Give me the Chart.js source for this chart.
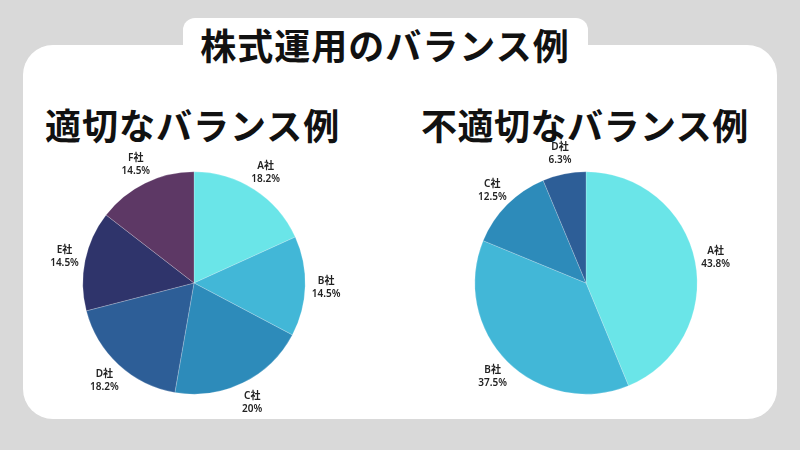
<!DOCTYPE html>
<html>
<head>
<meta charset="utf-8">
<script src="https://cdn.jsdelivr.net/npm/chart.js@4/dist/chart.umd.min.js"></script>
<style>
  html, body { margin: 0; padding: 0; }
  body { width: 800px; height: 450px; background: #d9d9d9; position: relative; overflow: hidden;
         font-family: "Noto Sans CJK JP", "Noto Sans", sans-serif; }
  .panel { position: absolute; left: 23px; top: 45px; width: 754px; height: 374px; background: #fff; border-radius: 30px; }
  .tab { position: absolute; left: 183px; top: 18px; width: 405px; height: 60px; background: #fff; border-radius: 12px; }
  .txt { position: absolute; font-weight: 700; color: #111; white-space: nowrap; font-size: 36px; line-height: 36px; }
  .box { position: absolute; width: 300px; height: 300px; }
</style>
</head>
<body>
<div class="panel"></div>
<div class="tab"></div>
<div class="txt" style="left:0;width:770px;text-align:center;top:26px;letter-spacing:1px;">株式運用のバランス例</div>
<div class="txt" style="left:45px;top:106px;letter-spacing:1px;">適切なバランス例</div>
<div class="txt" style="left:421px;top:106px;letter-spacing:0.5px;">不適切なバランス例</div>
<div class="box" style="left:44px;top:133px;"><canvas id="goodPie"></canvas></div>
<div class="box" style="left:436px;top:133px;"><canvas id="badPie"></canvas></div>
<script>
// good balance example (percent)
var goodLabels = ['A社', 'B社', 'C社', 'D社', 'E社', 'F社'];
var goodValues = [18.2, 14.5, 20, 18.2, 14.5, 14.5];
var goodColors = ['#6ae5e8', '#42b7d7', '#2d8bba', '#2d5e97', '#2f346b', '#5d3865'];

// bad balance example (percent)
var badLabels = ['A社', 'B社', 'C社', 'D社'];
var badValues = [43.8, 37.5, 12.5, 6.3];
var badColors = ['#6ae5e8', '#42b7d7', '#2d8bba', '#2d5e97'];

// name + percent drawn just outside each slice
var outsideLabels = {
    id: 'outsideLabels',
    afterDatasetsDraw: function (chart) {
        var ctx = chart.ctx;
        var meta = chart.getDatasetMeta(0);
        ctx.save();
        ctx.fillStyle = '#222';
        ctx.textAlign = 'center';
        ctx.textBaseline = 'middle';
        ctx.font = '600 10px "Noto Sans", "Noto Sans CJK JP", sans-serif';
        meta.data.forEach(function (arc, i) {
            var mid = (arc.startAngle + arc.endAngle) / 2;
            var r = arc.outerRadius + 21;
            var x = arc.x + Math.cos(mid) * r;
            var y = arc.y + Math.sin(mid) * r;
            ctx.fillText(chart.data.labels[i], x, y - 6);
            ctx.fillText(chart.data.datasets[0].data[i] + '%', x, y + 7);
        });
        ctx.restore();
    }
};

function makePie(id, labels, values, colors) {
    return new Chart(document.getElementById(id).getContext('2d'), {
        type: 'pie',
        data: {
            labels: labels,
            datasets: [{
                data: values,
                backgroundColor: colors,
                borderColor: 'rgba(255,255,255,0.35)',
                borderWidth: 0.6
            }]
        },
        options: {
            responsive: false,
            animation: false,
            layout: { padding: 38.5 },
            plugins: {
                legend: { display: false },
                tooltip: { enabled: false }
            }
        },
        plugins: [outsideLabels]
    });
}

document.getElementById('goodPie').width = 300;
document.getElementById('goodPie').height = 300;
document.getElementById('badPie').width = 300;
document.getElementById('badPie').height = 300;
makePie('goodPie', goodLabels, goodValues, goodColors);
makePie('badPie', badLabels, badValues, badColors);
</script>
</body>
</html>
